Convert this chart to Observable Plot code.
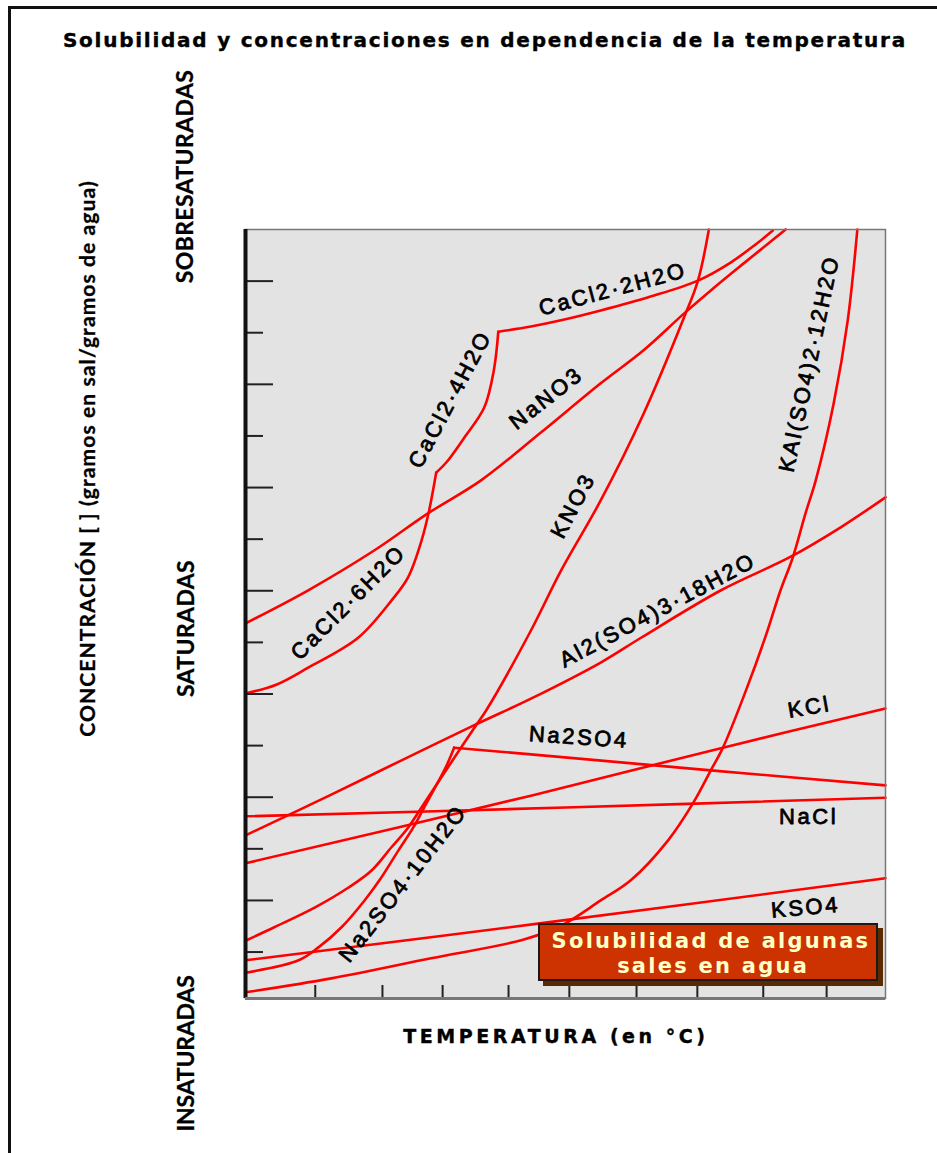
<!DOCTYPE html>
<html><head><meta charset="utf-8">
<script src="https://cdn.jsdelivr.net/npm/d3@7"></script>
<script src="https://cdn.jsdelivr.net/npm/@observablehq/plot@0.6"></script>
<style>
html,body{margin:0;padding:0;background:#fff;}
#wrap{position:relative;width:937px;height:1153px;overflow:hidden;}
#wrap svg{position:absolute;left:0;top:0;}
.t{position:absolute;white-space:nowrap;line-height:1;}
</style></head><body><div id="wrap"></div>
<script>
// Temperature (0–100) vs concentration (one tick = 10 units)
const nacl = [[0,36.3],[50,38.0],[100,39.9]];
const kcl = [[0,27.2],[44.6,40.3],[74.6,49.6],[100,57.2]];
const na2so4 = [[32.6,49.6],[44.6,48.3],[72.7,45.2],[100,42.3]];
const na2so4_10 = [[0,6.0],[8.3,8.4],[11.4,10.9],[15.0,14.8],[18.6,20.0],[21.2,24.4],[23.9,29.7],[26.2,34.1],[27.9,38.0],[29.8,42.3],[31.4,46.1],[32.6,49.6]];
const kno3 = [[0,12.2],[4.5,14.8],[10.8,18.6],[16.1,22.5],[19.7,25.8],[22.8,30.3],[25.4,34.1],[27.5,38.0],[31.8,46.1],[36.0,53.9],[37.6,56.8],[44.6,72.3],[49.3,83.9],[55.5,97.5],[62.2,114.3],[68.5,132.9],[70.7,140.1],[72.4,150.0]];
const cacl2_6 = [[0,60.1],[4.8,61.8],[9.8,65.1],[17.6,70.9],[22.8,78.1],[25.4,82.6],[27.5,89.7],[28.7,95.6],[29.8,102.9]];
const cacl2_4 = [[29.8,102.9],[31.4,104.9],[34.2,109.7],[37.3,115.5],[38.8,122.7],[39.5,130.2]];
const cacl2_2 = [[39.5,130.2],[44.6,131.2],[49.3,132.4],[55.5,134.3],[63.3,137.0],[70.7,140.1],[75.8,143.6],[79.7,147.1],[82.4,149.8]];
const nano3 = [[0,73.7],[9.8,80.1],[20.1,87.8],[28.5,95.0],[36.8,101.4],[46.2,110.7],[55.5,120.2],[62.2,126.6],[68.5,133.7],[72.7,138.2],[77.4,143.0],[81.3,146.9],[84.4,150.0]];
const al2so43 = [[0,32.6],[13.4,40.5],[24.3,47.1],[36.0,54.1],[44.6,59.1],[55.5,66.1],[61.8,70.9],[74.3,80.1],[85.2,86.6],[93.0,92.3],[100,98.1]];
const kso4 = [[0,8.4],[45.7,15.5],[100,24.3]];
const kalso4 = [[0,2.2],[13.4,4.9],[29.0,8.8],[43.1,12.3],[49.3,15.1],[55.5,20.0],[60.2,23.9],[66.0,31.6],[70.0,39.0],[72.7,45.2],[74.6,49.6],[78.2,60.7],[81.3,71.3],[83.6,80.1],[85.5,86.4],[87.5,95.0],[89.1,101.4],[91.9,116.3],[94.1,132.4],[95.6,150.0]];

const seriesNames = ["NaCl","KCl","Na2SO4","Na2SO4·10H2O","KNO3","CaCl2·6H2O","CaCl2·4H2O","CaCl2·2H2O","NaNO3","Al2(SO4)3·18H2O","KSO4","KAl(SO4)2·12H2O"];
const seriesData = [nacl,kcl,na2so4,na2so4_10,kno3,cacl2_6,cacl2_4,cacl2_2,nano3,al2so43,kso4,kalso4];

// curve labels: name, temperature, concentration, angle
const labelNames = ["CaCl2·2H2O","CaCl2·4H2O","NaNO3","KNO3","KAl(SO4)2·12H2O","CaCl2·6H2O","Al2(SO4)3·18H2O","KCl","Na2SO4","NaCl","Na2SO4·10H2O","KSO4"];
const labelT = [57.4,32.0,47.0,51.2,88.1,16.1,64.4,88.1,52.1,88.0,24.6,87.5];
const labelC = [138.4,117.1,117.3,96.5,124.0,77.7,76.2,57.4,51.6,36.1,23.3,18.6];
const labelAngle = [-15,-62,-38,-62,-78,-45,-28,-10,4,0,-52,-5];

const xTicks = [10.9,21.4,30.8,41.1,50.6,61.1,70.6,80.9,90.8];
const yTicksLong = [20,40,60,80,100,120,140];
const yTicksShort = [10,30,50,70,90,110,130];

const rows = seriesNames.flatMap((name,i) => seriesData[i].map(([T,C]) => ({name,T,C})));
const labels = labelNames.map((name,i) => ({name, T: labelT[i], C: labelC[i], angle: labelAngle[i]}));

const W = 937, H = 1153, ML = 245, MR = 52, MT = 229, MB = 155;
const fw = W - ML - MR, fh = H - MT - MB;

const chart = Plot.plot({
  width: W, height: H, marginLeft: ML, marginRight: MR, marginTop: MT, marginBottom: MB,
  x: {domain: [0,100], axis: null},
  y: {domain: [1,150], axis: null},
  style: {background: "transparent", fontFamily: "'Liberation Sans', Arial, sans-serif", letterSpacing: "2.6px", overflow: "visible"},
  marks: [
    Plot.frame({fill: "#e3e3e3"}),
    Plot.line(rows, {x: "T", y: "C", z: "name", stroke: "#ff0000", strokeWidth: 2.6, curve: "catmull-rom"}),
    Plot.text(labels, {x: "T", y: "C", text: "name", rotate: "angle", fontSize: 22, fill: "#000", stroke: "#000", strokeWidth: 0.8, textAnchor: "middle", lineAnchor: "middle"}),
    Plot.tickY(yTicksLong, {y: d => d, insetRight: fw - 28, stroke: "#222", strokeWidth: 2}),
    Plot.tickY(yTicksShort, {y: d => d, insetRight: fw - 18, stroke: "#222", strokeWidth: 2}),
    Plot.tickX(xTicks, {x: d => d, insetTop: fh - 13, stroke: "#222", strokeWidth: 2}),
    Plot.frame({stroke: "#777", strokeWidth: 1.5}),
    Plot.ruleX([0], {stroke: "#111", strokeWidth: 4}),
    Plot.ruleY([1], {stroke: "#777", strokeWidth: 3})
  ]
});
const wrap = document.getElementById("wrap");
wrap.appendChild(chart);

// outer page frame
const border = document.createElement("div");
Object.assign(border.style, {position: "absolute", left: "8px", top: "6px", width: "1000px", height: "1200px", borderLeft: "3px solid #111", borderTop: "3px solid #111"});
wrap.appendChild(border);

function place(txt, cx, cy, w, rot, css) {
  const d = document.createElement("div");
  d.className = "t"; d.textContent = txt;
  Object.assign(d.style, css);
  wrap.appendChild(d);
  const w0 = d.offsetWidth, n = [...txt].length;
  const ls = (w - w0) / (n - 1);
  d.style.letterSpacing = ls + "px";
  const bw = d.offsetWidth, bh = d.offsetHeight;
  d.style.left = (cx - (bw - ls) / 2) + "px";
  d.style.top = (cy - bh / 2) + "px";
  if (rot) d.style.transform = `rotate(${rot}deg)`;
  return d;
}

const heavy = {fontFamily: "'DejaVu Sans', Verdana, sans-serif", fontWeight: "bold", color: "#000", webkitTextStroke: "0.4px #000"};
const side = {fontFamily: "Lato, 'Open Sans', sans-serif", fontWeight: "bold", color: "#000", webkitTextStroke: "0.3px #000"};

place("Solubilidad y concentraciones en dependencia de la temperatura", 484, 40, 842, 0, {...heavy, fontSize: "20px"});
place("CONCENTRACIÓN [ ] (gramos en sal/gramos de agua)", 86, 458, 555, -90, {...side, fontSize: "21px"});
place("SOBRESATURADAS", 185, 176, 213, -90, {...side, fontSize: "23px"});
place("SATURADAS", 185, 628, 137, -90, {...side, fontSize: "23px"});
place("INSATURADAS", 185, 1053, 156, -90, {...side, fontSize: "23px"});
place("TEMPERATURA (en °C)", 554, 1036, 302, 0, {...heavy, fontSize: "19px"});

// annotation box
const box = document.createElement("div");
Object.assign(box.style, {position: "absolute", left: "538px", top: "923px", width: "340px", height: "58px", boxSizing: "border-box", background: "#cc3300", border: "2px solid #1a1a1a", boxShadow: "5px 5px 0 #5a2a00"});
wrap.appendChild(box);
const boxText = {fontFamily: "'DejaVu Sans', Verdana, sans-serif", fontWeight: "bold", color: "#ffffc8", fontSize: "21px"};
place("Solubilidad de algunas", 710, 941, 316, 0, boxText);
place("sales en agua", 712, 966, 190, 0, boxText);
</script></body></html>
